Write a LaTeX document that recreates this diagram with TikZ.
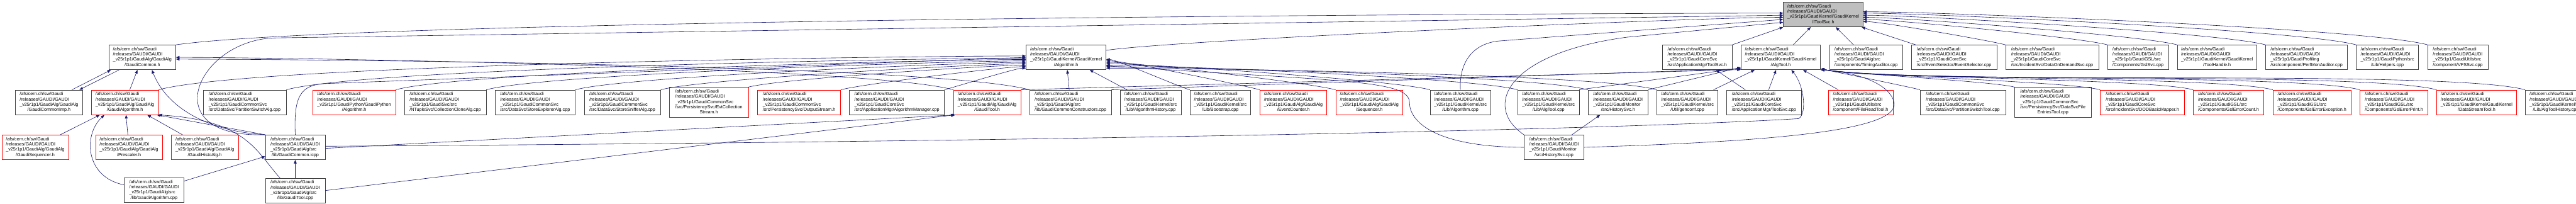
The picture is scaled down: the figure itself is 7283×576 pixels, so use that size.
\documentclass[tikz,border=0pt]{standalone}
\usepackage{fontspec}
\setmainfont{Liberation Sans}
\usetikzlibrary{arrows.meta,positioning}

\definecolor{edgeblue}{HTML}{191970}
\definecolor{rootgrey}{HTML}{BFBFBF}

% file label: common prefix left aligned, last line centred
\newcommand{\gpath}[2]{\begin{tabular}{@{}l@{}}/afs/cern.ch/sw/Gaudi\\/releases/GAUDI/GAUDI\\\_v25r1p1/#1\\\multicolumn{1}{@{}c@{}}{#2}\end{tabular}}
\newcommand{\gpathv}[3]{\begin{tabular}{@{}l@{}}/afs/cern.ch/sw/Gaudi\\/releases/GAUDI/GAUDI\\\_v25r1p1/#1\\#2\\\multicolumn{1}{@{}c@{}}{#3}\end{tabular}}

\begin{document}
\begin{tikzpicture}[x=0.1pt, y=0.1pt,
    node distance=2.4pt,
    filebox/.style={draw=black!75, line width=0.11pt, fill=white, inner sep=0.3pt,
      minimum height=7pt, font=\fontsize{1.28}{1.48}\selectfont},
    redbox/.style={filebox, draw=red},
    rootbox/.style={filebox, fill=rootgrey},
    tallbox/.style={minimum height=8.5pt},
    inc/.style={-{Triangle[length=1pt, width=0.8pt]}, draw=edgeblue, line width=0.11pt},
    fromleft/.style={out=15, in=180, looseness=.3},
    fromright/.style={out=165, in=0, looseness=.3},
    fromrightlow/.style={out=165, in=-12, looseness=.3}
]
\useasboundingbox (0,0) rectangle (7283,-576);

% rank 0
\node[rootbox, minimum width=22.5pt] (itool) at (5154.5,-41) {\gpath{GaudiKernel/GaudiKernel}{/IToolSvc.h}};

% rank 1
\node[filebox, minimum width=18.9pt] (gcommon) at (402.5,-162) {\gpath{GaudiAlg/GaudiAlg}{/GaudiCommon.h}};
\node[filebox, minimum width=22.6pt] (algh) at (3014,-162) {\gpath{GaudiKernel/GaudiKernel}{/Algorithm.h}};
\node[filebox, minimum width=19.7pt] (toolsvch) at (4798.5,-162) {\gpath{GaudiCoreSvc}{/src/ApplicationMgr/ToolSvc.h}};
\node[filebox, minimum width=22.5pt, right=of toolsvch] (algtoolh) {\gpath{GaudiKernel/GaudiKernel}{/AlgTool.h}};
\node[filebox, minimum width=20.7pt, right=of algtoolh] (timing) {\gpath{GaudiAlg/src}{/components/TimingAuditor.cpp}};
\node[filebox, minimum width=24.1pt, right=of timing] (evtsel) {\gpath{GaudiCoreSvc}{/src/EventSelector/EventSelector.cpp}};
\node[filebox, minimum width=26.3pt, right=of evtsel] (dod) {\gpath{GaudiCoreSvc}{/src/IncidentSvc/DataOnDemandSvc.cpp}};
\node[filebox, minimum width=17.2pt, right=of dod] (gslsvc) {\gpath{GaudiGSL/src}{/Components/GslSvc.cpp}};
\node[filebox, minimum width=22.5pt, right=of gslsvc] (toolhandle) {\gpath{GaudiKernel/GaudiKernel}{/ToolHandle.h}};
\node[filebox, minimum width=23.1pt, right=of toolhandle] (perfmon) {\gpath{GaudiProfiling}{/src/component/PerfMonAuditor.cpp}};
\node[filebox, minimum width=17.6pt, right=of perfmon] (helpers) {\gpath{GaudiPython/src}{/Lib/Helpers.cpp}};
\node[filebox, minimum width=17pt, right=2.5pt of helpers] (vfssvc) {\gpath{GaudiUtils/src}{/component/VFSSvc.cpp}};

% rank 2
\node[filebox, minimum width=18.9pt] (gcimp) at (138.5,-289) {\gpath{GaudiAlg/GaudiAlg}{/GaudiCommonImp.h}};
\node[redbox, minimum width=19pt, right=of gcimp] (galgh) {\gpath{GaudiAlg/GaudiAlg}{/GaudiAlgorithm.h}};
\node[filebox, minimum width=23.5pt, right=12.5pt of galgh] (partsw) {\gpath{GaudiCommonSvc}{/src/DataSvc/PartitionSwitchAlg.cpp}};
\node[redbox, minimum width=23.4pt, right=7.4pt of partsw] (pyalg) {\gpath{GaudiPython/GaudiPython}{/Algorithm.h}};
\node[filebox, minimum width=23.1pt, right=of pyalg] (clone) {\gpath{GaudiSvc/src}{/NTupleSvc/CollectionCloneAlg.cpp}};
\node[filebox, minimum width=22.7pt, right=of clone] (storeexp) {\gpath{GaudiCommonSvc}{/src/DataSvc/StoreExplorerAlg.cpp}};
\node[filebox, minimum width=21.6pt, right=of storeexp] (storesniff) {\gpath{GaudiCommonSvc}{/src/DataSvc/StoreSnifferAlg.cpp}};
\node[redbox, tallbox, minimum width=22.3pt, right=of storesniff] (evtcoll) {\gpathv{GaudiCommonSvc}{/src/PersistencySvc/EvtCollection}{Stream.h}};
\node[redbox, minimum width=23.5pt, right=2.5pt of evtcoll] (outstream) {\gpath{GaudiCommonSvc}{/src/PersistencySvc/OutputStream.h}};
\node[filebox, minimum width=26.8pt, right=of outstream] (algmgr) {\gpath{GaudiCoreSvc}{/src/ApplicationMgr/AlgorithmManager.cpp}};
\node[redbox, minimum width=19pt, right=2.5pt of algmgr] (gtoolh) {\gpath{GaudiAlg/GaudiAlg}{/GaudiTool.h}};
\node[filebox, minimum width=23.1pt, right=of gtoolh] (gcctor) {\gpath{GaudiAlg/src}{/lib/GaudiCommonConstructors.cpp}};
\node[filebox, minimum width=17.2pt, right=of gcctor] (alghist) {\gpath{GaudiKernel/src}{/Lib/AlgorithmHistory.cpp}};
\node[filebox, minimum width=17.2pt, right=of alghist] (bootstrap) {\gpath{GaudiKernel/src}{/Lib/Bootstrap.cpp}};
\node[redbox, minimum width=18.9pt, right=2.5pt of bootstrap] (evtcounter) {\gpath{GaudiAlg/GaudiAlg}{/EventCounter.h}};
\node[redbox, minimum width=19pt, right=of evtcounter] (sequencer) {\gpath{GaudiAlg/GaudiAlg}{/Sequencer.h}};
\node[filebox, minimum width=17.1pt, right=7.6pt of sequencer] (algcpp) {\gpath{GaudiKernel/src}{/Lib/Algorithm.cpp}};
\node[filebox, minimum width=17.3pt, right=7.6pt of algcpp] (algtoolcpp) {\gpath{GaudiKernel/src}{/Lib/AlgTool.cpp}};
\node[filebox, minimum width=17pt, right=of algtoolcpp] (histsvch) {\gpath{GaudiMonitor}{/src/HistorySvc.h}};
\node[filebox, minimum width=17.2pt, right=of histsvch] (genconf) {\gpath{GaudiKernel/src}{/Util/genconf.cpp}};
\node[filebox, minimum width=21.1pt, right=of genconf] (toolsvccpp) {\gpath{GaudiCoreSvc}{/src/ApplicationMgr/ToolSvc.cpp}};
\node[redbox, minimum width=18.3pt, right=7.5pt of toolsvccpp] (filereadtool) {\gpath{GaudiUtils/src}{/component/FileReadTool.h}};
\node[filebox, minimum width=24.1pt, right=7.6pt of filereadtool] (partswtool) {\gpath{GaudiCommonSvc}{/src/DataSvc/PartitionSwitchTool.cpp}};
\node[filebox, tallbox, minimum width=21.6pt, right=2.5pt of partswtool] (dsfileentries) {\gpathv{GaudiCommonSvc}{/src/PersistencySvc/DataSvcFile}{EntriesTool.cpp}};
\node[redbox, minimum width=23.8pt, right=2.5pt of dsfileentries] (dodmapper) {\gpath{GaudiCoreSvc}{/src/IncidentSvc/DODBasicMapper.h}};
\node[redbox, minimum width=19.9pt, right=of dodmapper] (gslcount) {\gpath{GaudiGSL/src}{/Components/GslErrorCount.h}};
\node[redbox, minimum width=22.1pt, right=2.5pt of gslcount] (gslexc) {\gpath{GaudiGSL/src}{/Components/GslErrorException.h}};
\node[redbox, minimum width=19.2pt, right=of gslexc] (gslprint) {\gpath{GaudiGSL/src}{/Components/GslErrorPrint.h}};
\node[redbox, minimum width=22.5pt, right=of gslprint] (dstreamtool) {\gpath{GaudiKernel/GaudiKernel}{/DataStreamTool.h}};
\node[filebox, minimum width=17.3pt, right=of dstreamtool] (algtoolhist) {\gpath{GaudiKernel/src}{/Lib/AlgToolHistory.cpp}};

% rank 3
\node[redbox, minimum width=18.9pt] (gseq) at (99.5,-416) {\gpath{GaudiAlg/GaudiAlg}{/GaudiSequencer.h}};
\node[redbox, minimum width=18.9pt, right=7.5pt of gseq] (prescaler) {\gpath{GaudiAlg/GaudiAlg}{/Prescaler.h}};
\node[redbox, minimum width=19pt, right=of prescaler] (ghisto) {\gpath{GaudiAlg/GaudiAlg}{/GaudiHistoAlg.h}};
\node[filebox, minimum width=16.9pt, right=7.5pt of ghisto] (gcicpp) {\gpath{GaudiAlg/src}{/lib/GaudiCommon.icpp}};
\node[filebox, minimum width=16.9pt] (histsvccpp) at (4393.5,-416) {\gpath{GaudiMonitor}{/src/HistorySvc.cpp}};

% rank 4
\node[filebox, minimum width=16.9pt] (galgcpp) at (435.5,-537) {\gpath{GaudiAlg/src}{/lib/GaudiAlgorithm.cpp}};
\node[filebox, minimum width=16.9pt, below=5.1pt of gcicpp] (gtoolcpp) {\gpath{GaudiAlg/src}{/lib/GaudiTool.cpp}};

% includers of IToolSvc.h
\draw[inc] (gcommon.north east) to[out=8, in=180, looseness=.3] (itool.178);
\draw[inc] (algh.10) to[out=8, in=180, looseness=.3] (itool.184);
\draw[inc] (gcicpp.north west) .. controls (430,-390) and (560,-110) .. (780,-107) -- (itool.181);
\draw[inc] (algcpp.north) .. controls (4125,-180) and (4160,-125) .. (4235,-116) -- (itool.187);
\draw[inc] (histsvccpp.north west) .. controls (4190,-300) and (4260,-150) .. (4600,-105) -- (itool.191);
\draw[inc] (toolsvch.north east) -- (itool.south west);
\draw[inc] (algtoolh) -- (itool);
\draw[inc] (timing) -- (itool);
\draw[inc] (evtsel) -- (itool);
\draw[inc] (dod.north west) to[fromright] (itool.-10);
\draw[inc] (gslsvc.north west) to[fromright] (itool.-7);
\draw[inc] (toolhandle.north west) to[fromright] (itool.-4);
\draw[inc] (perfmon.north west) to[fromright] (itool.-1);
\draw[inc] (helpers.north west) to[fromright] (itool.2);
\draw[inc] (vfssvc.north west) to[fromright] (itool.4);

% includers of GaudiCommon.h
\draw[inc] ([xshift=-3pt]gcimp.north east) -- ([xshift=0.6pt]gcommon.south west);
\draw[inc] ([xshift=2.9pt]gcommon.south west) -- ([xshift=-0.9pt]gcimp.north east);
\draw[inc] (galgh) -- (gcommon);
\draw[inc] (gcicpp.north west) .. controls (580,-370) and (470,-300) .. ([xshift=2.7pt]gcommon.south);
\draw[inc] (gtoolh.north west) to[fromright] (gcommon.east);
\draw[inc] (gcctor.north west) to[fromright] (gcommon.-3);

% includers of GaudiAlgorithm.h
\draw[inc] (gseq) -- (galgh);
\draw[inc] (prescaler) -- (galgh);
\draw[inc] (ghisto) -- (galgh);
\draw[inc] (galgcpp.170) .. controls (240,-500) and (235,-380) .. ([xshift=-5.8pt]galgh.south);
\draw[inc] (gcicpp.north west) -- ([xshift=-0.5pt]galgh.south east);
\draw[inc] ([xshift=-4.3pt]gtoolcpp.north) .. controls (725,-430) and (700,-340) .. (galgh.south east);

% includers of GaudiCommon.icpp and GaudiTool.h
\draw[inc] (galgcpp) -- (gcicpp);
\draw[inc] (gtoolcpp) -- (gcicpp);
\draw[inc] (gcicpp.-2) -- ([xshift=0.6pt]gtoolh.south west);
\draw[inc] (gtoolcpp.east) -- ([xshift=0.3pt]gtoolh.south west);

% includers of Algorithm.h
\draw[inc] (galgh.north east) to[fromleft] (algh.178);
\draw[inc] (gcicpp.north) .. controls (830,-270) and (850,-240) .. (920,-236) -- (algh.180);
\draw[inc] (partsw.north east) to[fromleft] (algh.181);
\draw[inc] (pyalg.north east) to[fromleft] (algh.183);
\draw[inc] (clone.north east) to[fromleft] (algh.185);
\draw[inc] (storeexp.north east) to[fromleft] (algh.187);
\draw[inc] (storesniff.north east) to[fromleft] (algh.189);
\draw[inc] (evtcoll.north east) to[fromleft] (algh.191);
\draw[inc] (outstream.north east) to[fromleft] (algh.193);
\draw[inc] (algmgr.north east) to[fromleft] (algh.195);
\draw[inc] (gcctor) -- (algh);
\draw[inc] (alghist) -- (algh);
\draw[inc] (bootstrap.north west) to[fromright] (algh.-3);
\draw[inc] (evtcounter.north west) to[fromright] (algh.-5);
\draw[inc] (sequencer.north west) to[fromright] (algh.-7);
\draw[inc] (algcpp.north west) to[fromright] (algh.-9);
\draw[inc] (algtoolcpp.north west) to[fromright] (algh.-11);
\draw[inc] (histsvch.north west) to[fromright] (algh.-13);
\draw[inc] (genconf.north west) to[fromright] (algh.-15);
\draw[inc] (histsvccpp.west) .. controls (4050,-415) and (3985,-340) .. (3985,-290) .. controls (3985,-225) and (3800,-230) .. (algh.-12);

% includers of AlgTool.h and ToolSvc.h
\draw[inc] (gtoolh.north east) -- (algtoolh.197);
\draw[inc] (gcctor.north east) -- (algtoolh.196);
\draw[inc] (algtoolcpp.north east) -- (algtoolh.195);
\draw[inc] (histsvch.north east) -- (algtoolh.194);
\draw[inc] (genconf) -- (algtoolh);
\draw[inc] (toolsvccpp) -- (algtoolh);
\draw[inc] (toolsvccpp) -- (toolsvch);
\draw[inc] (filereadtool) -- (algtoolh);
\draw[inc] (gcicpp.2) .. controls (3000,-400) and (4600,-365) .. (5085,-335) .. controls (5110,-320) and (5100,-240) .. ([xshift=3pt]algtoolh.south);
\draw[inc] (histsvccpp.east) .. controls (5000,-400) and (5370,-370) .. (5355,-290) .. controls (5345,-240) and (5260,-205) .. (algtoolh.south east);
\draw[inc] (partswtool.north west) to[fromrightlow] (algtoolh.-16);
\draw[inc] (dsfileentries.north west) to[fromrightlow] (algtoolh.-16);
\draw[inc] (dodmapper.north west) to[fromrightlow] (algtoolh.-16);
\draw[inc] (gslcount.north west) to[fromrightlow] (algtoolh.-16);
\draw[inc] (gslexc.north west) to[fromrightlow] (algtoolh.-16);
\draw[inc] (gslprint.north west) to[fromrightlow] (algtoolh.-16);
\draw[inc] (dstreamtool.north west) to[fromrightlow] (algtoolh.-16);
\draw[inc] (algtoolhist.north west) to[fromrightlow] (algtoolh.-16);

% HistorySvc
\draw[inc] (histsvccpp) -- (histsvch);
\end{tikzpicture}
\end{document}
